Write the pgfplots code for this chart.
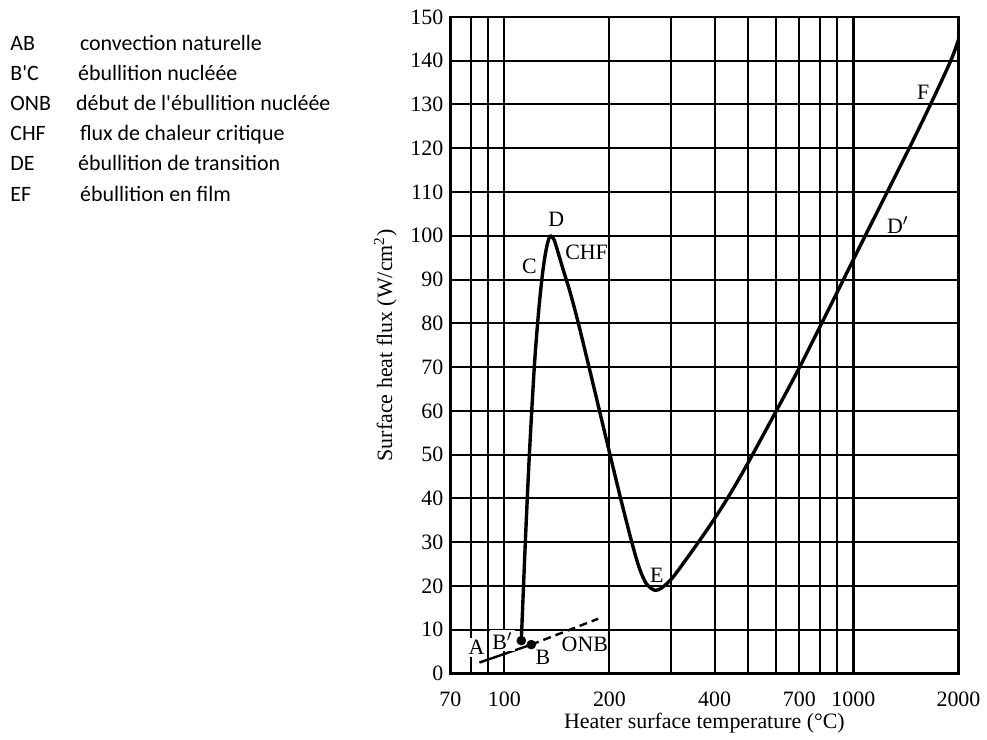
\documentclass[border=0pt]{standalone}
\usepackage{fontspec}
\setmainfont{Liberation Serif}
\newfontfamily\calfont{Carlito}
\usepackage{pgfplots}
\pgfplotsset{compat=1.18}

\begin{document}
\begin{tikzpicture}
% canvas: 1px = 0.5pt, axis box at px x 452..962, y 17..676
\path (-226pt,-33pt) rectangle (267.5pt,338pt);
\begin{axis}[
    scale only axis, width=255pt, height=329.5pt,
    at={(0,0)}, anchor=south west,
    xmode=log, xmin=70, xmax=2000, ymin=0, ymax=150,
    xtick={70,100,200,400,700,1000,2000},
    xticklabels={70,100,200,400,700,1000,2000},
    minor xtick={80,90,300,500,600,800,900},
    ytick={0,10,...,150},
    major tick length=0pt, minor tick length=0pt,
    grid=both,
    major grid style={black, line width=1pt},
    minor grid style={black, line width=1pt},
    axis line style={black, line width=1.2pt},
    tick label style={font=\fontsize{11}{12}\selectfont},
    xticklabel style={yshift=-5.5pt},
    /pgf/number format/assume math mode=true,
    xlabel={Heater surface temperature (°C)},
    ylabel={Surface heat flux (W/cm\textsuperscript{2})},
    label style={font=\fontsize{11}{12}\selectfont},
    xlabel style={yshift=3.5pt},
    clip=false,
  ]
  % heavier gridline at 1000
  \addplot[black, line width=1.3pt, forget plot] coordinates {(1000,0)(1000,150)};
  % CHF level, dashed
  \addplot[black, line width=1pt, dash pattern=on 3.5pt off 2pt] coordinates {(135.7,100)(1081,100)};
  % AB natural convection
  \addplot[black, line width=1.2pt] coordinates {(84.8,2.5)(119.4,6.6)};
  % ONB extension, dashed
  \addplot[black, line width=1.2pt, dash pattern=on 4pt off 2.5pt] coordinates {(119.4,6.6)(185.6,12.5)};
  % boiling curve B' C D E D' F
  \addplot[black, line width=1.7pt, smooth, tension=0.5, line join=round] coordinates {
    (111.8,7.5)(114.8,30)(117.9,50)(121.8,70)(125.1,82)(128,90)(130.5,95)
    (133.1,98.5)(135.7,100)(138.9,99)(142.7,96)(147.7,92)(153.1,88)
    (158.1,84)(162.9,80)(174.8,70)(187.3,60)(200.7,50)(215.3,40)
    (231.7,30)(243.8,24)(255.3,20.5)(270,19)(282.8,19.6)(302,21.7)
    (324.3,25)(359.7,30)(397.2,35)(435.5,40)(474.2,45)(514,50)(601.2,60)
    (701.5,70)(810.9,80)(936.5,90)(1081,100)(1250,110)(1445,120)(1663,130)
    (1901,140)(2000,144.8)
  };
  % points B' and B
  \addplot[only marks, mark=*, mark size=2.2pt, black] coordinates {(111.8,7.5)(119.4,6.6)};
  % labels
  \begin{scope}[every node/.style={font=\fontsize{11}{12}\selectfont, inner sep=1pt}]
    \node[fill=white] at (axis cs:83.2,5.9) {A};
    \node[fill=white] at (axis cs:98.7,7.5) {B$'$};
    \node at (axis cs:129,3.6) {B};
    \node at (axis cs:170,6.6) {ONB};
    \node at (axis cs:117.9,93) {C};
    \node at (axis cs:140.8,103.8) {D};
    \node at (axis cs:172,96.3) {CHF};
    \node at (axis cs:273.5,22.5) {E};
    \node at (axis cs:1340,102.5) {D$'$};
    \node at (axis cs:1585,132.7) {F};
  \end{scope}
\end{axis}
% legend text on the left
\begin{scope}[every node/.style={font=\calfont\fontsize{11}{13}\selectfont, anchor=base west, inner sep=0pt}]
  \node at (-221pt,312.5pt) {AB};   \node at (-186pt,312.5pt) {convection naturelle};
  \node at (-221pt,297.5pt) {B'C};  \node at (-187pt,297.5pt) {ébullition nucléée};
  \node at (-221pt,282.5pt) {ONB};  \node at (-188pt,282.5pt) {début de l'ébullition nucléée};
  \node at (-221pt,267.5pt) {CHF};  \node at (-186pt,267.5pt) {flux de chaleur critique};
  \node at (-221pt,252.5pt) {DE};   \node at (-187pt,252.5pt) {ébullition de transition};
  \node at (-221pt,237pt) {EF};     \node at (-186pt,237pt) {ébullition en film};
\end{scope}
\end{tikzpicture}
\end{document}
